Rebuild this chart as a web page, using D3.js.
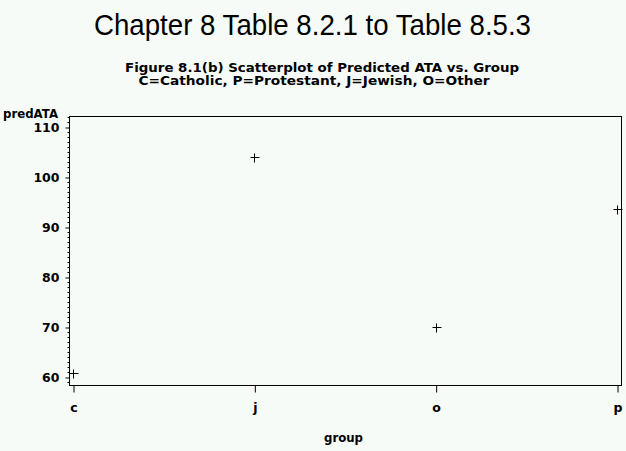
<!DOCTYPE html>
<html><head><meta charset="utf-8">
<script src="https://cdn.jsdelivr.net/npm/d3@7"></script>
<style>html,body{margin:0;padding:0;background:#f7fbf7;}svg{display:block;}</style>
</head><body>
<script>
const groups = ["c","j","o","p"];
const predATA = [60.8, 104.0, 70.1, 93.6];
const yTicks = [60,70,80,90,100,110];
const title = "Chapter 8 Table 8.2.1 to Table 8.5.3";
const subtitle1 = "Figure 8.1(b) Scatterplot of Predicted ATA vs. Group";
const subtitle2 = "C=Catholic, P=Protestant, J=Jewish, O=Other";

const W = 626, H = 451;
const svg = d3.select("body").append("svg").attr("width", W).attr("height", H)
  .style("background", "#f7fbf7");

const fLeft = 69.5, fRight = 621.5, fTop = 116.5, fBottom = 385.5;
const y = d3.scaleLinear().domain([60, 110]).range([377, 127]);
const x = d3.scalePoint().domain(groups).range([73, 617]);

// titles
svg.append("text").attr("x", 312.5).attr("y", 35).attr("text-anchor", "middle")
  .attr("font-family", "Liberation Sans, Arial, sans-serif").attr("font-size", 29)
  .attr("textLength", 437).attr("lengthAdjust", "spacingAndGlyphs")
  .attr("fill", "#000").text(title);
const monoFont = "DejaVu Sans, Verdana, sans-serif";
svg.append("text").attr("x", 322).attr("y", 72).attr("text-anchor", "middle")
  .attr("font-family", monoFont).attr("font-size", 12).attr("font-weight", "bold")
  .attr("textLength", 394).attr("lengthAdjust", "spacingAndGlyphs").text(subtitle1);
svg.append("text").attr("x", 314).attr("y", 85).attr("text-anchor", "middle")
  .attr("font-family", monoFont).attr("font-size", 12).attr("font-weight", "bold")
  .attr("textLength", 351).attr("lengthAdjust", "spacingAndGlyphs").text(subtitle2);

// frame
svg.append("rect").attr("x", fLeft).attr("y", fTop).attr("width", fRight - fLeft).attr("height", fBottom - fTop)
  .attr("fill", "none").attr("stroke", "#000").attr("stroke-width", 1);

// y axis minor ticks
const minor = d3.range(59, 113, 1).filter(v => v % 10 !== 0 && y(v) > fTop && y(v) < fBottom);
svg.append("g").selectAll("line").data(minor).join("line")
  .attr("x1", fLeft - 2).attr("x2", fLeft)
  .attr("y1", d => Math.round(y(d)) + 0.5).attr("y2", d => Math.round(y(d)) + 0.5)
  .attr("stroke", "#000");

const yAxis = d3.axisLeft(y).tickValues(yTicks).tickSize(4).tickPadding(6);
const gy = svg.append("g").attr("transform", `translate(${fLeft},0.5)`).call(yAxis);
gy.select(".domain").remove();
gy.selectAll("text").attr("font-family", monoFont).attr("font-size", 12.5)
  .attr("font-weight", "bold").attr("fill", "#000");

const xAxis = d3.axisBottom(x).tickSize(7).tickPadding(11);
const gx = svg.append("g").attr("transform", `translate(0.5,${fBottom})`).call(xAxis);
gx.select(".domain").remove();
gx.selectAll("text").attr("font-family", monoFont).attr("font-size", 12.5)
  .attr("font-weight", "bold").attr("fill", "#000");

// axis labels
svg.append("text").attr("x", 3).attr("y", 118).attr("font-family", monoFont)
  .attr("font-size", 12.5).attr("font-weight", "bold")
  .attr("textLength", 55).attr("lengthAdjust", "spacingAndGlyphs").text("predATA");
svg.append("text").attr("x", 343.5).attr("y", 442).attr("text-anchor", "middle")
  .attr("font-family", monoFont).attr("font-size", 12.5).attr("font-weight", "bold")
  .attr("textLength", 39).attr("lengthAdjust", "spacingAndGlyphs").text("group");

// points as plus signs
const pts = groups.map((g, i) => ({g, v: predATA[i]}));
const pg = svg.append("g");
pts.forEach(d => {
  const cx = Math.round(x(d.g)) + 0.5, cy = Math.round(y(d.v)) + 0.5;
  pg.append("line").attr("x1", cx - 4).attr("x2", cx + 5).attr("y1", cy).attr("y2", cy).attr("stroke", "#000");
  pg.append("line").attr("x1", cx).attr("x2", cx).attr("y1", cy - 4).attr("y2", cy + 5).attr("stroke", "#000");
});
</script>
</body></html>
